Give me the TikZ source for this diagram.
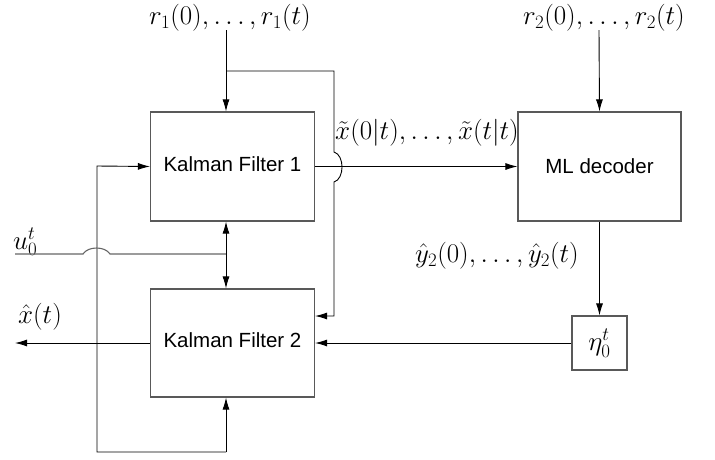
\RequirePackage{fix-cm}
\documentclass[tikz,border=0pt]{standalone}
\usepackage{fontspec}
\setsansfont{Liberation Sans}
\usetikzlibrary{arrows.meta,calc}
\begin{document}
\begin{tikzpicture}[x=1pt,y=-1pt,
  box/.style={draw=black!65,line width=1.1pt,inner sep=0pt,
    font=\sffamily\fontsize{20.5}{24}\selectfont},
  lab/.style={font=\fontsize{27}{32}\selectfont,inner sep=0pt},
  wire/.style={line width=0.9pt,black},
  arr/.style={wire,-{Latex[length=12pt,width=7pt]}},
  grayline/.style={line width=1.1pt,black!60}]
\useasboundingbox (0,0) rectangle (715,459);
% boxes
\node[box,minimum width=164pt,minimum height=109pt] (kf1) at (232.5,166.5) {\raisebox{4pt}{Kalman Filter 1}};
\node[box,minimum width=164pt,minimum height=108pt] (kf2) at (232.5,343) {\raisebox{5pt}{Kalman Filter 2}};
\node[box,minimum width=163pt,minimum height=109pt] (ml) at (599.5,166.5) {\raisebox{-3pt}{ML decoder}};
\node[box,minimum width=55pt,minimum height=54pt,font=\fontsize{27}{32}\selectfont] (eta) at (599.5,343) {$\eta_0^t$};
% labels
\node[lab] (r1) at (230,18) {$r_1(0),\ldots,r_1(t)$};
\node[lab] (r2) at (604,18) {$r_2(0),\ldots,r_2(t)$};
\node[lab,anchor=base] (xt) at (427,139) {$\tilde{x}(0|t),\ldots,\tilde{x}(t|t)$};
\node[lab,anchor=base] (yh) at (497,262) {$\hat{y}_2(0),\ldots,\hat{y}_2(t)$};
\node[lab,anchor=base west] (u0) at (13,249) {$u_0^t$};
\node[lab,anchor=base] (xh) at (40,323) {$\hat{x}(t)$};
% coordinates
\coordinate (r1in) at (226,30);
\coordinate (br) at (226,71);
\coordinate (r2in) at (599,30);
\coordinate (uin) at (15,254);
\coordinate (uj) at (226,254);
\coordinate (xout) at (15,343);
\coordinate (fb) at (97,452);
% r1 input and branch
\draw[arr] (r1in) -- (r1in |- kf1.north);
\draw[arr] (br) -- (334,71) -- (334,152)
  .. controls (344.7,155) and (344.7,179) .. (334,182)
  -- (334,316) -- (kf2.east |- 0,316);
% KF1 -> ML
\draw[arr] (kf1.east) -- (ml.west);
% r2 input
\draw[arr] (r2in) -- (ml.north);
% ML -> eta -> KF2
\draw[arr] (ml.south) -- (eta.north);
\draw[arr] (eta.west) -- (kf2.east);
% KF2 output
\draw[arr] (kf2.west) -- (xout);
% feedback loop
\draw[arr] (fb -| uj) -- (fb) -- (97,166) -- (kf1.west);
\draw[arr] (fb -| uj) -- (uj |- kf2.south);
% u0 input
\draw[grayline] (uin) -- (83,254) .. controls (88,246) and (105,246) .. (110,254) -- (uj);
\draw[arr] (uj) -- (uj |- kf1.south);
\draw[arr] (uj) -- (uj |- kf2.north);
\end{tikzpicture}
\end{document}
